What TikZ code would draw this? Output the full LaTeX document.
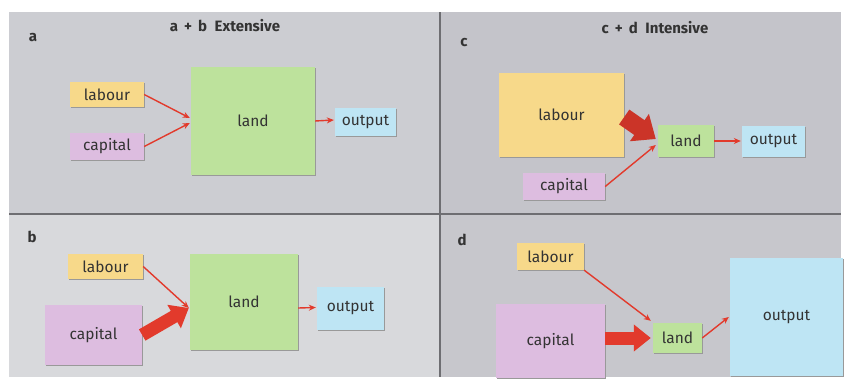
\documentclass[tikz,border=0pt]{standalone}
\usepackage{fontspec}
\setmainfont{Fira Sans}
\usetikzlibrary{arrows.meta,calc}
\definecolor{bgA}{HTML}{CCCDD2}
\definecolor{bgB}{HTML}{D8D9DC}
\definecolor{bgC}{HTML}{C4C4CA}
\definecolor{bgD}{HTML}{C7C7CC}
\definecolor{yel}{HTML}{F7D98A}
\definecolor{pnk}{HTML}{DDBDE0}
\definecolor{grn}{HTML}{BDE29C}
\definecolor{blu}{HTML}{BEE5F4}
\definecolor{arr}{HTML}{E23A2C}
\definecolor{txt}{HTML}{333333}
\definecolor{divl}{HTML}{6E6E72}
\tikzset{
  x=1pt,y=-1pt,
  box/.style={draw=none,inner sep=0pt,text=txt,font=\fontsize{15.5}{17}\selectfont},
  thinarr/.style={draw=arr,line width=1.4pt,-{Stealth[length=7pt,width=6pt]}},
  thickarr/.style={draw=arr,line width=13pt,-{Triangle[length=17pt,width=26pt]}},
  bigarr/.style={draw=arr!90!black,line width=18pt,-{Triangle[length=20pt,width=32pt]}},
  lbl/.style={font=\bfseries\fontsize{15}{17}\selectfont,text=txt,inner sep=0pt},
}
\newcommand{\bx}[6]{% name, cx, cy, w, h, color ; text given after
  \fill[black!40] ({#2-#4/2+1.2},{#3-#5/2+1.2}) rectangle ({#2+#4/2+1.2},{#3+#5/2+1.2});
  \node[box,fill=#6,minimum width=#4pt,minimum height=#5pt] (#1) at (#2,#3)}
\begin{document}
\begin{tikzpicture}
\useasboundingbox (0,0) rectangle (844,378);
\fill[white] (0,0) rectangle (844,378);
\fill[bgA] (9,12) rectangle (440,214);
\fill[bgB] (9,214) rectangle (440,377);
\fill[bgC] (440,12) rectangle (841,214);
\fill[bgD] (440,214) rectangle (841,377);
\draw[divl,line width=1.6pt] (440,12) -- (440,377);
\draw[divl,line width=1.6pt] (9,214) -- (841,214);

% titles and labels
\node[lbl] (ta) at (225,26) {a\, +\, b\enspace Extensive};
\node[lbl] (tc) at (655,28) {c\, +\, d\enspace Intensive};
\node[lbl] (la) at (33,38) {a};
\node[lbl] (lb) at (32,237) {b};
\node[lbl] (lc) at (464,43) {c};
\node[lbl] (ld) at (462,240) {d};

% panel a
\bx{aLab}{107}{94.5}{74}{25}{yel} {labour};
\bx{aCap}{107}{146.5}{74}{27}{pnk} {capital};
\bx{aLand}{253}{121}{124}{108}{grn} {land};
\bx{aOut}{365.5}{122}{61}{28}{blu} {output};
\draw[thinarr] (aLab.east) -- ($(aLand.west)+(-1,-3)$);
\draw[thinarr] (aCap.east) -- ($(aLand.west)+(-1,2)$);
\draw[thinarr] (aLand.east) -- ($(aOut.west)+(-1,-2)$);

% panel b
\bx{bLab}{105.5}{266.5}{75}{25}{yel} {labour};
\bx{bCap}{93.5}{335}{97}{60}{pnk} {capital};
\bx{bLand}{244}{302}{108}{96}{grn} {land};
\bx{bOut}{350.5}{308.5}{67}{43}{blu} {output};
\draw[thickarr] ($(bCap.east)+(0,0)$) -- ($(bLand.west)+(-1,6)$);
\draw[thinarr] (bLab.east) -- ($(bLand.west)+(-1,6)$);
\draw[thinarr] ($(bLand.east)+(0,6)$) -- ($(bOut.west)+(-1,-1)$);

% panel c
\bx{cLab}{561.5}{115}{125}{84}{yel} {labour};
\bx{cLand}{686}{141}{56}{32}{grn} {land};
\bx{cOut}{773.5}{141.5}{63}{31}{blu} {output};
\bx{cCap}{564}{186.5}{82}{27}{pnk} {capital};
\draw[bigarr] ($(cLab.east)+(0,2)$) -- ($(cLand.west)+(-2,-2)$);
\draw[thinarr] (cCap.east) -- ($(cLand.west)+(-2,4)$);
\draw[thinarr] (cLand.east) -- ($(cOut.west)+(-1,-0.5)$);

% panel d
\bx{dLab}{550.5}{256.5}{67}{27}{yel} {labour};
\bx{dCap}{550.5}{341}{109}{74}{pnk} {capital};
\bx{dLand}{677.5}{338}{49}{30}{grn} {land};
\bx{dOut}{786.5}{317}{113}{118}{blu} {output};
\draw[thickarr] ($(dCap.east)+(0,-3)$) -- ($(dLand.west)+(-2,0)$);
\draw[thinarr] (dLab.south east) -- ($(dLand.north west)+(-2,-2)$);
\draw[thinarr] (dLand.east) -- ($(dOut.west)+(-1,0)$);
\end{tikzpicture}
\end{document}
